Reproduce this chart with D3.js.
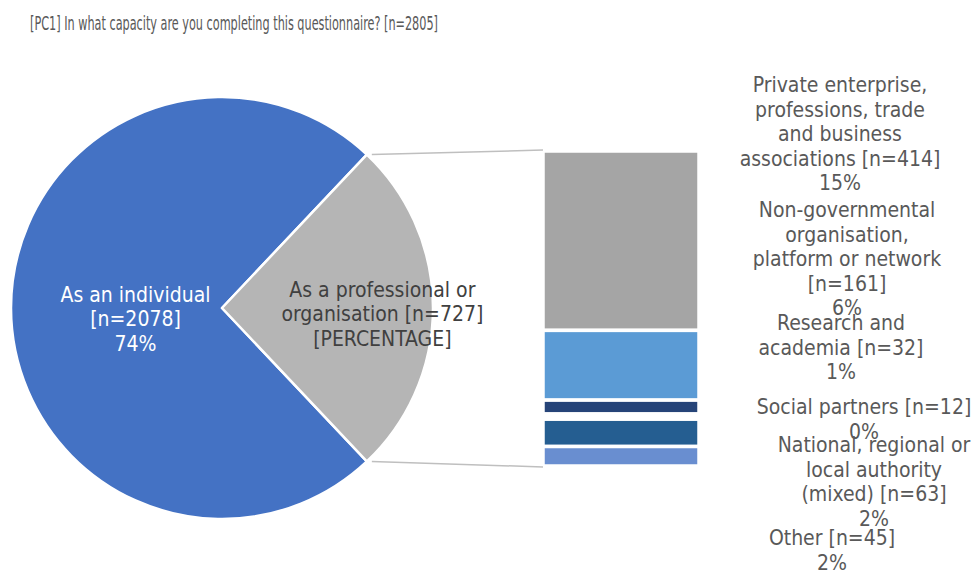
<!DOCTYPE html>
<html>
<head>
<meta charset="utf-8">
<script src="https://cdn.jsdelivr.net/npm/d3@7"></script>
<style>
  body { margin: 0; background: #fff; }
  text { font-family: "DejaVu Sans Condensed", "DejaVu Sans", sans-serif; }
</style>
</head>
<body>
<div id="chart"></div>
<script>
// pie: main split
var pieNames = ["As an individual", "As a professional or organisation"];
var pieValues = [2078, 727];
var pieLabels = [
    ["As an individual", "[n=2078]", "74%"],
    ["As a professional or", "organisation [n=727]", "[PERCENTAGE]"]
];
var pieColors = ["#4472C4", "#B5B5B5"];

// bar: breakdown of the professional slice
var barNames = ["Private enterprise", "Non-governmental organisation", "Research and academia",
    "Social partners", "National, regional or local authority", "Other"];
var barValues = [414, 161, 32, 12, 63, 45];
var barLabels = [
    ["Private enterprise,", "professions, trade", "and business", "associations [n=414]", "15%"],
    ["Non-governmental", "organisation,", "platform or network", "[n=161]", "6%"],
    ["Research and", "academia [n=32]", "1%"],
    ["Social partners [n=12]", "0%"],
    ["National, regional or", "local authority", "(mixed) [n=63]", "2%"],
    ["Other [n=45]", "2%"]
];
var barColors = ["#A5A5A5", "#5B9BD5", "#264478", "#FFFFFF", "#255E91", "#698ED0"];

var title = "[PC1] In what capacity are you completing this questionnaire? [n=2805]";

var width = 976, height = 570;
var svg = d3.select("#chart").append("svg")
    .attr("width", width)
    .attr("height", height);

// title
svg.append("text")
    .attr("x", 30)
    .attr("y", 30)
    .text(title)
    .style("font-family", "'DejaVu Sans Condensed', sans-serif")
    .style("font-size", "19px")
    .attr("textLength", 408)
    .attr("lengthAdjust", "spacingAndGlyphs")
    .style("fill", "#595959");

// pie
var cx = 222, cy = 308, r = 211;
var total = d3.sum(pieValues);
var half = Math.PI * pieValues[1] / total;   // half angle of the grey slice, centred at 3 o'clock
var pie = d3.pie().sort(null)
    .startAngle(Math.PI / 2 + half)
    .endAngle(Math.PI / 2 + half + 2 * Math.PI);
var arcs = pie(pieValues);
var arc = d3.arc().innerRadius(0).outerRadius(r);

var pg = svg.append("g").attr("transform", "translate(" + cx + "," + cy + ")");
pg.selectAll("path")
    .data(arcs)
    .enter()
    .append("path")
    .attr("d", arc)
    .style("fill", (d, i) => pieColors[i])
    .style("stroke", "#fff")
    .style("stroke-width", 2.5)
    .style("stroke-linejoin", "round");

// pie labels
var labelR = [0.41, 0.76];
var labelDy = [11, 6];
var lineH = 24.5;
var labelColors = ["#ffffff", "#404040"];
arcs.forEach(function (d, i) {
    var la = d3.arc().innerRadius(r * labelR[i]).outerRadius(r * labelR[i]);
    var c = la.centroid(d);
    var lines = pieLabels[i];
    var t = pg.append("text")
        .attr("text-anchor", "middle")
        .style("font-size", "21px")
        .style("fill", labelColors[i]);
    lines.forEach(function (s, k) {
        t.append("tspan")
            .attr("x", c[0])
            .attr("y", c[1] + (k - (lines.length - 1) / 2) * lineH + labelDy[i])
            .attr("dy", "0.35em")
            .text(s);
    });
});

// stacked bar
var barX = 543, barW = 156, barTop = 151, barBottom = 466;
var yScale = d3.scaleLinear().domain([0, d3.sum(barValues)]).range([barTop, barBottom]);
var cum = 0;
var segs = barValues.map(function (v, i) {
    var s = { i: i, y0: cum, y1: cum + v };
    cum += v;
    return s;
});

svg.selectAll(".seg")
    .data(segs)
    .enter()
    .append("rect")
    .attr("class", "seg")
    .attr("x", barX)
    .attr("y", d => yScale(d.y0))
    .attr("width", barW)
    .attr("height", d => yScale(d.y1) - yScale(d.y0))
    .style("fill", d => barColors[d.i])
    .style("stroke", "#fff")
    .style("stroke-width", 3.5);

// connector lines from the grey slice edges to the bar ends
var a0 = arcs[1].startAngle, a1 = arcs[1].endAngle;
var pStart = [cx + r * Math.sin(a0), cy - r * Math.cos(a0)];
var pEnd = [cx + r * Math.sin(a1), cy - r * Math.cos(a1)];
var pTop = pStart[1] < pEnd[1] ? pStart : pEnd;
var pBot = pStart[1] < pEnd[1] ? pEnd : pStart;
svg.append("line")
    .attr("x1", pTop[0] + 5).attr("y1", pTop[1])
    .attr("x2", barX).attr("y2", yScale(0) - 1)
    .style("stroke", "#BFBFBF").style("stroke-width", 1.5);
svg.append("line")
    .attr("x1", pBot[0] + 5).attr("y1", pBot[1])
    .attr("x2", barX).attr("y2", yScale(d3.sum(barValues)) + 1)
    .style("stroke", "#BFBFBF").style("stroke-width", 1.5);

// bar labels (placed to the right, stacked like the original)
var labelPos = [[840, 85], [847, 210], [841, 323], [864, 407], [874, 445], [832, 538]];
barLabels.forEach(function (lines, i) {
    var t = svg.append("text")
        .attr("text-anchor", "middle")
        .style("font-size", "21px")
        .style("fill", "#595959");
    lines.forEach(function (s, k) {
        t.append("tspan")
            .attr("x", labelPos[i][0])
            .attr("y", labelPos[i][1] + k * lineH)
            .attr("dy", "0.35em")
            .text(s);
    });
});
</script>
</body>
</html>
